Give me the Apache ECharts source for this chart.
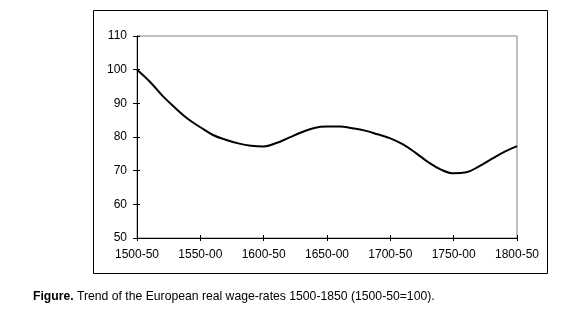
<!DOCTYPE html>
<html>
<head>
<meta charset="utf-8">
<script src="https://cdn.jsdelivr.net/npm/echarts@6/dist/echarts.min.js"></script>
<style>
  html, body { margin: 0; padding: 0; background: #fff; }
  #chart { width: 566px; height: 331px; }
</style>
</head>
<body>
<div id="chart"></div>
<script>
// 50-year moving periods, stepped by a decade (1500-50, 1510-60, ... 1800-50)
const periods = [
  '1500-50','1510-60','1520-70','1530-80','1540-90',
  '1550-00','1560-10','1570-20','1580-30','1590-40',
  '1600-50','1610-60','1620-70','1630-80','1640-90',
  '1650-00','1660-10','1670-20','1680-30','1690-40',
  '1700-50','1710-60','1720-70','1730-80','1740-90',
  '1750-00','1760-10','1770-20','1780-30','1790-40',
  '1800-50'
];

// Real wage index (1500-50 = 100)
const wageIndex = [
  100, 96.5, 92.3, 88.7, 85.4,
  82.9, 80.6, 79.2, 78.1, 77.4,
  77.2, 78.2, 79.8, 81.4, 82.7,
  83.1, 83.1, 82.6, 81.9, 80.8,
  79.6, 77.8, 75.3, 72.5, 70.3,
  69.2, 69.5, 71.3, 73.5, 75.6,
  77.3
];

const yTicks = { min: 50, max: 110, step: 10 };
const captionBold = 'Figure.';
const captionText = ' Trend of the European real wage-rates 1500-1850 (1500-50=100).';

const font = 'Arial, "Liberation Sans", sans-serif';
const chart = echarts.init(document.getElementById('chart'));

const labelEvery = (i) => i % 5 === 0;

chart.setOption({
  animation: false,
  backgroundColor: '#fff',
  grid: {
    left: 137, right: 49, top: 36, bottom: 93,
    show: true, borderColor: '#808080', borderWidth: 1, backgroundColor: 'transparent'
  },
  graphic: [
    {
      type: 'rect', z: -1,
      shape: { x: 93.5, y: 10.5, width: 454, height: 263 },
      style: { fill: 'none', stroke: '#000', lineWidth: 1 }
    },
    {
      type: 'text', left: 33, top: 291,
      style: {
        text: '{b|' + captionBold + '}' + captionText,
        font: '12.2px ' + font, fill: '#000',
        rich: { b: { fontWeight: 'bold', fontSize: 12.2, fontFamily: font, fill: '#000' } }
      }
    }
  ],
  xAxis: [
    {
      type: 'category', data: periods, boundaryGap: false,
      axisLine: { lineStyle: { color: '#000', width: 1 } },
      axisTick: { length: 3, interval: labelEvery, lineStyle: { color: '#000' } },
      axisLabel: { interval: labelEvery, color: '#000', fontSize: 12, fontFamily: font, margin: 11 },
      splitLine: { show: false }
    },
    {
      type: 'category', data: periods, boundaryGap: false, position: 'bottom',
      axisLine: { show: false },
      axisTick: { inside: true, length: 3, interval: labelEvery, lineStyle: { color: '#000' } },
      axisLabel: { show: false },
      splitLine: { show: false }
    }
  ],
  yAxis: [
    {
      type: 'value', min: yTicks.min, max: yTicks.max, interval: yTicks.step,
      axisLine: { show: true, lineStyle: { color: '#000', width: 1 } },
      axisTick: { show: true, length: 4, lineStyle: { color: '#000' } },
      axisLabel: { color: '#000', fontSize: 12, fontFamily: font, margin: 10 },
      splitLine: { show: false }
    },
    {
      type: 'value', min: yTicks.min, max: yTicks.max, interval: yTicks.step, position: 'left',
      axisLine: { show: false },
      axisTick: { show: true, inside: true, length: 3, lineStyle: { color: '#000' } },
      axisLabel: { show: false },
      splitLine: { show: false }
    }
  ],
  series: [
    {
      type: 'line', data: wageIndex, xAxisIndex: 0, yAxisIndex: 0,
      smooth: 0.4, showSymbol: false,
      lineStyle: { color: '#000', width: 2 }
    }
  ]
});
</script>
</body>
</html>
